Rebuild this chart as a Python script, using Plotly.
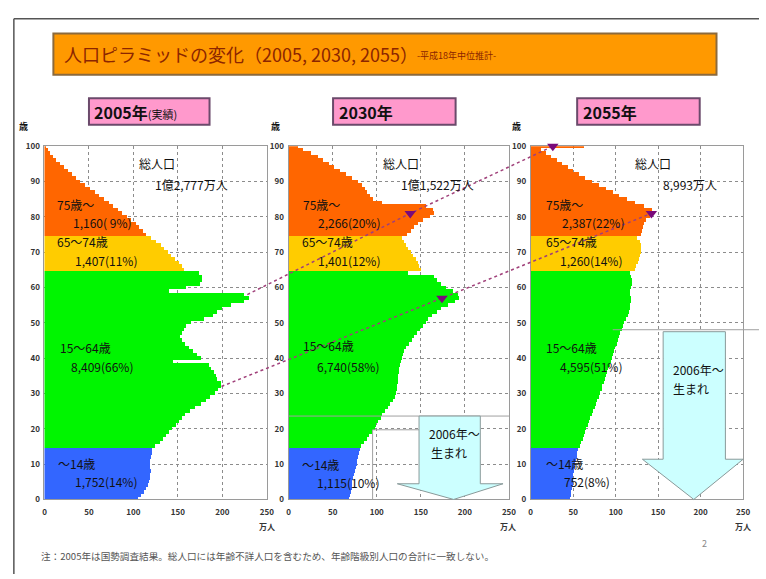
import plotly.graph_objects as go

W, H = 766, 579
FONT = "Noto Sans CJK JP"

# 年齢別人口（万人）0歳〜100歳以上
AGES = list(range(101))
POP_2005 = [106, 109, 112, 115, 117, 118, 119, 119, 120, 119, 119, 119, 120, 121, 121,
            125, 130, 134, 137, 141, 144, 148, 152, 155, 159,
            164, 170, 176, 182, 187, 192, 196, 199, 199, 195,
            193, 191, 188, 185, 145, 176, 172, 168, 163, 158,
            155, 153, 155, 157, 160, 165, 180, 190, 195, 200,
            210, 225, 230, 225, 140, 160, 175, 178, 178, 174,
            157, 155, 152, 147, 143, 139, 135, 131, 126, 120,
            115, 111, 107, 103, 98, 93, 88, 83, 78, 73, 67, 62, 57, 52, 46,
            41, 36, 31, 27, 22, 18, 14, 10, 7, 4, 2]
POP_2030 = [68, 69, 70, 71, 72, 72, 73, 74, 75, 76, 77, 77, 78, 79, 80,
            82, 85, 88, 91, 94, 97, 99, 101, 104, 106,
            109, 112, 115, 118, 120, 121, 122, 123, 124, 124,
            124, 125, 125, 126, 127, 128, 129, 130, 133, 136,
            139, 142, 145, 149, 152, 155, 158, 162, 168, 172,
            180, 188, 193, 192, 186, 178, 172, 168, 165, 135,
            150, 148, 146, 144, 141, 138, 135, 133, 130, 128,
            134, 138, 142, 146, 152, 160, 165, 163, 155, 105, 95, 92, 89, 86, 83,
            78, 72, 65, 58, 51, 45, 39, 33, 25, 16, 10]
POP_2055 = [46, 47, 47, 48, 49, 49, 50, 50, 51, 52, 52, 53, 54, 54, 55,
            58, 59, 61, 62, 64, 65, 67, 68, 70, 72,
            73, 75, 76, 78, 80, 81, 83, 84, 86, 87,
            88, 90, 91, 93, 94, 95, 96, 98, 99, 101,
            102, 104, 105, 107, 108, 110, 112, 114, 115, 116,
            117, 118, 118, 117, 117, 118, 119, 119, 118, 117,
            122, 124, 126, 127, 128, 129, 130, 130, 128, 125,
            130, 131, 132, 133, 135, 140, 145, 142, 133, 122, 113, 104, 96, 88, 80,
            72, 64, 56, 49, 43, 37, 31, 24, 18, 12, 62]
POPS = [POP_2005, POP_2030, POP_2055]

YEAR_LABELS = ["<b>2005年</b><span style='font-size:11px'>(実績)</span>", "<b>2030年</b>", "<b>2055年</b>"]
TOTALS = ["1億2,777万人", "1億1,522万人", "8,993万人"]

GROUP_NAMES = ["～14歳", "15～64歳", "65～74歳", "75歳～"]
GROUP_BOUNDS = [(0, 14), (15, 64), (65, 74), (75, 100)]
GROUP_COLORS = ["#3366FF", "#00F500", "#FFCC00", "#FF6600"]
GROUP_VALUES = [
    ["1,752(14%)", "8,409(66%)", "1,407(11%)", "1,160( 9%)"],
    ["1,115(10%)", "6,740(58%)", "1,401(12%)", "2,266(20%)"],
    ["752(8%)", "4,595(51%)", "1,260(14%)", "2,387(22%)"],
]

X_TICKS = [0, 50, 100, 150, 200, 250]
Y_TICKS = list(range(0, 101, 10))

# 団塊世代・団塊ジュニアの追跡点（年齢, 人口）
COHORT_AGES = [[58, 81, 100], [32, 57, 81]]
COHORT_VALUES = [[228, 138, 26], [199, 174, 142]]

# 画面上の配置（ピクセル）
PANEL_X = [(43, 268), (290, 513), (535, 750)]
TOP, BOTTOM = 143, 503
LABEL_SIZE = 12


def fx(x):
    return x / W


def fy(y):
    return 1 - y / H


def to_px(panel, age, value):
    x0, x1 = PANEL_X[panel]
    return x0 + value * (x1 - x0) / 250, BOTTOM - age * (BOTTOM - TOP) / 100


fig = go.Figure()
layout = dict(
    width=W, height=H, autosize=False,
    margin=dict(l=0, r=0, t=0, b=0, pad=0),
    paper_bgcolor="white", plot_bgcolor="rgba(0,0,0,0)",
    bargap=0, barmode="overlay", showlegend=False,
    font=dict(family=FONT, color="#222"),
)

for i, pop in enumerate(POPS):
    ax = "" if i == 0 else str(i + 1)
    for g, (lo, hi) in enumerate(GROUP_BOUNDS):
        fig.add_trace(go.Bar(
            x=pop[lo:hi + 1], y=AGES[lo:hi + 1], orientation="h", width=1,
            marker=dict(color=GROUP_COLORS[g], line=dict(width=0)),
            xaxis="x" + ax, yaxis="y" + ax, name=GROUP_NAMES[g],
            hovertemplate="%{y}歳: %{x}万人<extra></extra>",
        ))
    x0, x1 = PANEL_X[i]
    common = dict(showline=True, mirror=True, linecolor="#9a9a9a", linewidth=1,
                  showgrid=True, gridcolor="#8c8c8c", griddash="dot", gridwidth=1,
                  zeroline=False, fixedrange=True,
                  tickfont=dict(size=8, color="#333", family=FONT, weight="bold"))
    layout["xaxis" + ax] = dict(domain=[fx(x0), fx(x1)], range=[0, 250], anchor="y" + ax,
                                tickvals=X_TICKS, ticks="outside", ticklen=5,
                                tickcolor="rgba(0,0,0,0)", **common)
    layout["yaxis" + ax] = dict(domain=[fy(BOTTOM), fy(TOP)], range=[0, 100], anchor="x" + ax,
                                tickvals=Y_TICKS, ticks="outside", ticklen=2,
                                tickcolor="rgba(0,0,0,0)", **common)

# 全体を覆う重ね合わせ軸（ピクセル単位）
layout["xaxis4"] = dict(domain=[0, 1], range=[0, W], anchor="y4", visible=False, fixedrange=True)
layout["yaxis4"] = dict(domain=[0, 1], range=[H, 0], anchor="x4", visible=False, fixedrange=True)

for ages, values in zip(COHORT_AGES, COHORT_VALUES):
    pts = [to_px(k, a, v) for k, (a, v) in enumerate(zip(ages, values))]
    fig.add_trace(go.Scatter(
        x=[p[0] for p in pts], y=[p[1] for p in pts], mode="lines",
        line=dict(color="#A0407A", width=1.5, dash="dot"),
        xaxis="x4", yaxis="y4", hoverinfo="skip",
    ))
    fig.add_trace(go.Scatter(
        x=[p[0] for p in pts[1:]], y=[p[1] for p in pts[1:]], mode="markers",
        marker=dict(symbol="triangle-down", size=10, color="#7A0A7A"),
        xaxis="x4", yaxis="y4", hoverinfo="skip",
    ))


def rect(x0, y0, x1, y1, fill, line, width=2, layer="below"):
    return dict(type="rect", xref="paper", yref="paper", x0=fx(x0), x1=fx(x1),
                y0=fy(y0), y1=fy(y1), fillcolor=fill, line=dict(color=line, width=width),
                layer=layer)


def seg(x0, y0, x1, y1, color="#a0a0a0", width=1, layer="above"):
    return dict(type="line", xref="paper", yref="paper", x0=fx(x0), x1=fx(x1),
                y0=fy(y0), y1=fy(y1), line=dict(color=color, width=width), layer=layer)


def arrow(left, right, top, wing_l, wing_r, neck, tip_x, tip_y):
    pts = [(left, top), (right, top), (right, neck), (wing_r, neck), (tip_x, tip_y),
           (wing_l, neck), (left, neck)]
    path = "M " + " L ".join(f"{fx(x):.5f},{fy(y):.5f}" for x, y in pts) + " Z"
    return dict(type="path", xref="paper", yref="paper", path=path, fillcolor="#CCFFFF",
                line=dict(color="#8a9a9a", width=1), layer="above")


shapes = [
    seg(12, 13, W, 13, color="#555", width=1.5, layer="below"),
    seg(12, 13, 12, H, color="#555", width=1.5, layer="below"),
    rect(52, 28, 723, 70, "#FF9900", "#8C6A3C"),
    rect(88, 94, 210, 121, "#FF99CC", "#6B4A6B"),
    rect(335, 94, 459, 121, "#FF99CC", "#6B4A6B"),
    rect(582, 94, 706, 121, "#FF99CC", "#6B4A6B"),
    seg(290, 418, 513, 418),
    seg(375, 432, 375, 503),
    seg(375, 432, 422, 432),
    seg(618, 330, W, 330),
    arrow(422, 484, 418, 400, 507, 487, 457, 503),
    arrow(669, 732, 332, 648, 750, 462, 700, 503),
]


def note(x, y, text, size=LABEL_SIZE, color="#111", anchor="left"):
    return dict(x=fx(x), y=fy(y), xref="paper", yref="paper", text=text, showarrow=False,
                xanchor=anchor, yanchor="middle", font=dict(size=size, color=color, family=FONT))


annotations = [
    note(61, 49, "人口ピラミッドの変化（2005, 2030, 2055）", size=18, color="#8B2500"),
    note(418, 50, "-平成18年中位推計-", size=9, color="#8B2500"),
    note(37, 561, "注：2005年は国勢調査結果。総人口には年齢不詳人口を含むため、年齢階級別人口の合計に一致しない。",
         size=9.6, color="#555"),
    note(711, 548, "2", size=9, color="#888", anchor="center"),
]

year_box_x = [91, 339, 586]
unit_x = [268, 512, 750]
sai_x = [22, 277, 521]
for i in range(3):
    annotations.append(note(year_box_x[i], 108, YEAR_LABELS[i], size=16, color="#111"))
    annotations.append(note(sai_x[i], 123, "<b>歳</b>", size=9, anchor="center"))
    annotations.append(note(unit_x[i], 531, "<b>万人</b>", size=8, color="#333", anchor="center"))

# 各パネルの文字位置（ピクセル）: 総人口, 合計, 各年齢階級の名前と値
total_pos = [[(137, 161), (153, 182)], [(383, 161), (402, 182)], [(638, 161), (667, 182)]]
group_pos = [
    [[(55, 466), (72, 485)], [(57, 348), (68, 367)], [(54, 240), (72, 259)], [(54, 202), (70, 221)]],
    [[(302, 467), (317, 486)], [(303, 346), (317, 367)], [(302, 240), (318, 259)], [(303, 202), (318, 221)]],
    [[(548, 466), (567, 485)], [(548, 348), (563, 367)], [(548, 240), (563, 259)], [(548, 202), (565, 221)]],
]
for i in range(3):
    (ax1, ay1), (ax2, ay2) = total_pos[i]
    annotations.append(note(ax1, ay1, "総人口"))
    annotations.append(note(ax2, ay2, TOTALS[i]))
    for g in range(4):
        (nx, ny), (vx, vy) = group_pos[i][g]
        annotations.append(note(nx, ny, GROUP_NAMES[g]))
        annotations.append(note(vx, vy, GROUP_VALUES[i][g]))

annotations += [
    note(430, 436, "2006年～"),
    note(432, 455, "生まれ"),
    note(677, 371, "2006年～"),
    note(677, 390, "生まれ"),
]

layout["shapes"] = shapes
layout["annotations"] = annotations
fig.update_layout(**layout)

fig.write_html("out.html", config={"displayModeBar": False},
               post_script="document.body.style.margin='0px';")
